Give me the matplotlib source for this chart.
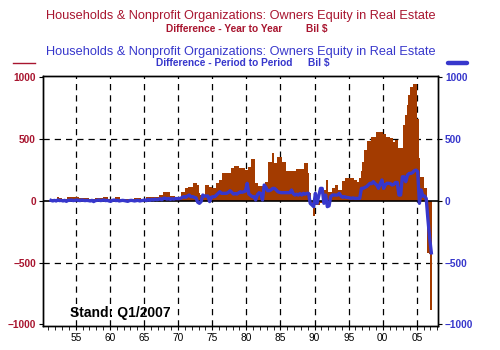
import numpy as np
import matplotlib.pyplot as plt
from matplotlib.lines import Line2D
from matplotlib.ticker import MultipleLocator

plt.rcParams.update({
    "font.family": ["Liberation Sans", "DejaVu Sans"],
    "axes.linewidth": 1.0,
})

RED = "#a8152f"
BLUE = "#3737cc"
BAR = "#a33b00"

# quarterly series, first value = 1951 Q2
first_year = 1951.25

# Difference - Year to Year (bars, left axis)
yoy = [
    13, 13, 13,            # 1951
    13, 30, 22, 22,        # 1952
    13, 13, 13, 32,
    32, 32, 32, 32,
    32, 32, 22, 22,        # 1955
    22, 22, 22, 22,
    13, 13, 13, 22,
    22, 22, 22, 22,
    30, 30, 30, 16,
    16, 16, 16, 30,        # 1960
    30, 30, 13, 13,
    13, 13, 13, 13,
    13, 13, 22, 22,
    22, 22, 16, 16,
    16, 30, 30, 30,        # 1965
    30, 30, 30, 35,
    30, 48, 48, 75,
    75, 75, 75, 40,
    40, 40, 30, 30,
    30, 30, 75, 75,        # 1970
    102, 102, 116, 116,
    116, 148, 148, 129,
    62, 48, 48, 48,
    129, 129, 116, 116,
    102, 102, 143, 143,    # 1975
    170, 170, 229, 229,
    229, 229, 229, 264,
    264, 282, 282, 282,
    264, 264, 264, 250,
    250, 277, 277, 336,    # 1980
    336, 143, 143, 121,
    121, 121, 121, 156,
    156, 317, 317, 385,
    304, 304, 352, 352,
    352, 317, 317, 245,    # 1985
    245, 245, 242, 242,
    242, 256, 256, 256,
    256, 256, 304, 304,
    223, 62, -19, -121,
    -32, -32, -32, -19,    # 1990
    -19, 89, 89, 170,
    75, 75, 102, 102,
    129, 129, 89, 89,
    164, 164, 183, 183,
    183, 183, 183, 170,    # 1995
    170, 156, 183, 240,
    317, 412, 412, 484,
    484, 519, 519, 519,
    560, 560, 560, 560,
    546, 546, 519, 519,    # 2000
    506, 506, 479, 492,
    492, 430, 430, 430,
    613, 694, 775, 855,
    923, 923, 950, 950,
    667, 344, 196, 196,    # 2005
    102, 102, -420, -430,
    -880,                  # 2007 Q1
]

# Difference - Period to Period (line, right axis)
pop = [
    5, 0, 5,
    0, 8, 3, 5,
    0, 5, -3, 5,
    5, 8, 3, 5,
    8, 5, 3, 8,
    5, 3, 5, 3,
    0, 5, -5, 3,
    5, 8, 3, 5,
    8, 3, 5, 0,
    -3, 5, 8, 3,
    5, 0, 3, 5,
    3, 0, -3, 3,
    5, 3, 0, 3,
    5, 0, 3, 5,
    8, 3, 13, 5,
    13, 8, 15, 10,
    13, 18, 10, 22,
    22, 15, 20, 13,
    18, 15, 20, 19,
    19, 22, 30, 35,
    30, 40, 48, 35,
    35, 30, 25, -10,
    -19, -5, 48, 40,
    40, 40, -5, 30,
    35, 35, 48, 60,
    75, 62, 62, 62,
    62, 70, 83, 70,
    56, 60, 56, 65,
    75, 70, 75, 80,
    143, 56, 45, 35,
    35, 8, 50, 67,
    60, 8, 129, 110,
    83, 83, 90, 102,
    102, 90, 75, 70,
    67, 67, 67, 67,
    67, 67, 89, 60,
    48, 55, 48, 60,
    48, 62, 55, 62,
    62, -20, -32, -46,
    62, -19, 40, 102,
    102, -19, 48, -46,
    -40, 35, 48, 48,
    48, 48, 62, 40,
    30, 35, 30, 28,
    25, 21, 25, 21,
    21, 21, 21, 102,
    102, 110, 116, 129,
    143, 140, 156, 140,
    129, 102, 140, 170,
    102, 130, 143, 143,
    140, 129, 135, 150,
    150, 48, 48, 196,
    196, 156, 210, 223,
    223, 230, 245, 250,
    237, -19, 89, 40,
    40, 20, -150, -300,
    -420,
]

year_ticks = list(range(1955, 2006, 5))
year_labels = [f"{y % 100:02d}" for y in year_ticks]
y_ticks = [-1000, -500, 0, 500, 1000]

x = first_year + np.arange(len(yoy)) * 0.25 + 0.125

fig = plt.figure(figsize=(5, 3.5), dpi=100)
ax = fig.add_axes([0.086, 0.069, 0.790, 0.715])

ax.bar(x, yoy, width=0.25, color=BAR, edgecolor="none", zorder=2)

# grid
for yr in year_ticks:
    ax.axvline(yr, color="black", lw=0.9, ls=(0, (5, 4)), zorder=1)
for v in (-500, 500):
    ax.axhline(v, color="black", lw=0.9, ls=(0, (5, 4)), zorder=1)
ax.axhline(0, color="black", lw=1.2, zorder=3)

ax.set_xlim(1950.2, 2008.1)
ax.set_ylim(-1011, 1015)
ax.set_xticks(year_ticks)
ax.set_xticklabels(year_labels)
ax.xaxis.set_minor_locator(MultipleLocator(1))
ax.tick_params(axis="x", which="both", direction="out", length=3,
               labelsize=7.3, pad=2)
ax.set_yticks(y_ticks)
ax.tick_params(axis="y", direction="out", length=3, labelsize=7.3,
               labelcolor=RED, pad=2)
for lab in ax.get_yticklabels():
    lab.set_fontweight("bold")

ax2 = ax.twinx()
ax2.plot(x, pop, color=BLUE, lw=2.4, solid_joinstyle="round", zorder=4)
ax2.set_ylim(ax.get_ylim())
ax2.set_yticks(y_ticks)
ax2.tick_params(axis="y", direction="out", length=3, labelsize=7.3,
                labelcolor=BLUE, pad=2)
for lab in ax2.get_yticklabels():
    lab.set_fontweight("bold")

ax.text(0.068, 0.05, "Stand: Q1/2007", transform=ax.transAxes,
        fontsize=10, fontweight="bold", color="black", va="center", zorder=5)

# titles
def fx(px):
    return px / 500

def fy(py):
    return 1 - py / 350

fig.text(fx(241), fy(16), "Households & Nonprofit Organizations: Owners Equity in Real Estate",
         color=RED, fontsize=9.15, ha="center", va="center")
fig.text(fx(224), fy(28.7), "Difference - Year to Year",
         color=RED, fontsize=7.3, fontweight="bold", ha="center", va="center")
fig.text(fx(306), fy(28.7), "Bil $",
         color=RED, fontsize=7.3, fontweight="bold", ha="left", va="center")
fig.text(fx(241), fy(51.7), "Households & Nonprofit Organizations: Owners Equity in Real Estate",
         color=BLUE, fontsize=9.15, ha="center", va="center")
fig.text(fx(224), fy(63.3), "Difference - Period to Period",
         color=BLUE, fontsize=7.3, fontweight="bold", ha="center", va="center")
fig.text(fx(308), fy(63.3), "Bil $",
         color=BLUE, fontsize=7.3, fontweight="bold", ha="left", va="center")

# legend keys
fig.add_artist(Line2D([fx(13), fx(35)], [fy(63), fy(63)], color=RED, lw=1.0))
fig.add_artist(Line2D([fx(448), fx(467)], [fy(63), fy(63)], color=BLUE, lw=3.2,
                      solid_capstyle="round"))

fig.savefig("out.png", dpi=100)
